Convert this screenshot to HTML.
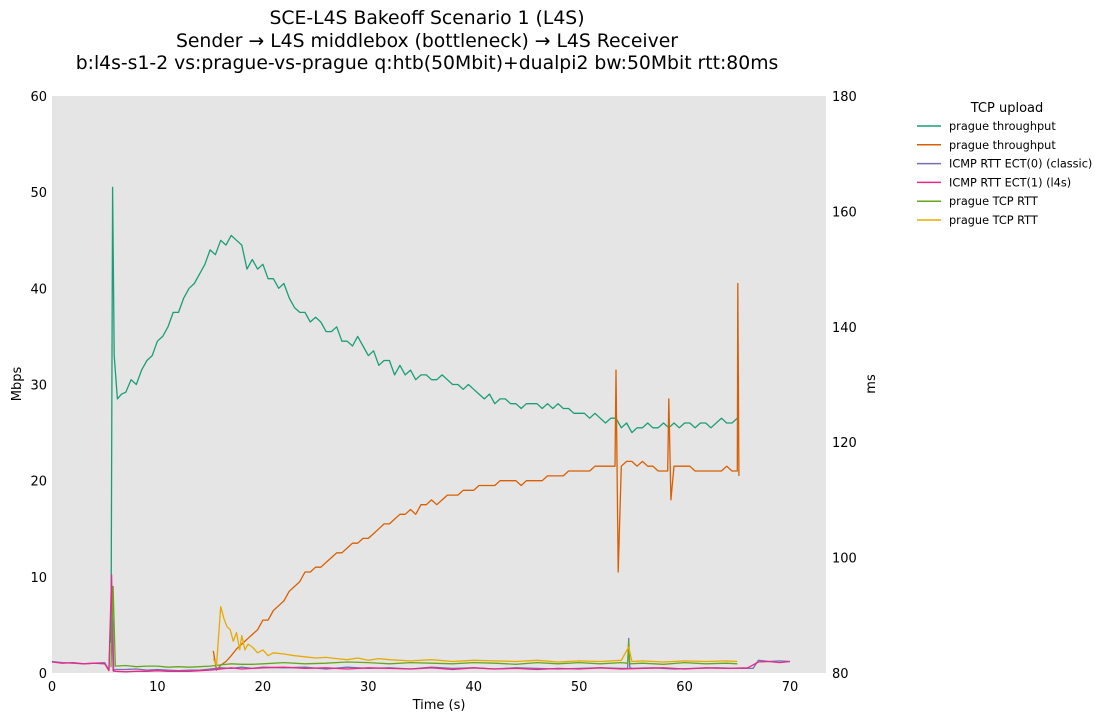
<!DOCTYPE html>
<html><head><meta charset="utf-8">
<style>
body{margin:0;background:#fff;font-family:"Liberation Sans","DejaVu Sans",sans-serif;}
svg text{font-family:"DejaVu Sans","Liberation Sans",sans-serif;}
</style></head>
<body>
<svg id="chart" width="1111" height="721" viewBox="0 0 1111 721">
<g font-size="18.8" text-anchor="middle" fill="#000">
<text x="427" y="24">SCE-L4S Bakeoff Scenario 1 (L4S)</text>
<text x="427" y="47">Sender → L4S middlebox (bottleneck) → L4S Receiver</text>
<text x="427" y="69">b:l4s-s1-2 vs:prague-vs-prague q:htb(50Mbit)+dualpi2 bw:50Mbit rtt:80ms</text>
</g>
<rect x="52" y="96" width="774" height="577" fill="#e5e5e5"/>
<g id="axes"></g>
<g id="series" clip-path="url(#clip)"></g>
<defs><clipPath id="clip"><rect x="52" y="90" width="774" height="584"/></clipPath></defs>
<text x="439" y="709" font-size="13" text-anchor="middle">Time (s)</text>
<text transform="translate(21,384) rotate(-90)" font-size="13" text-anchor="middle">Mbps</text>
<text transform="translate(875,384) rotate(-90)" font-size="13" text-anchor="middle">ms</text>
<g id="legend"><text x="1007" y="112" font-size="13" text-anchor="middle">TCP upload</text></g>
</svg>
<script>
const xTicks=[0,10,20,30,40,50,60,70];
const yLeftTicks=[0,10,20,30,40,50,60];
const yRightTicks=[80,100,120,140,160,180];
const legendLabels=["prague throughput","prague throughput","ICMP RTT ECT(0) (classic)","ICMP RTT ECT(1) (l4s)","prague TCP RTT","prague TCP RTT"];
const colors=["#1b9e77","#d95f02","#7570b3","#e7298a","#66a61e","#e6ab02"];
// series: [time, value]
const thrA_t=[5.5,5.6,5.75,5.9,6.2,6.6,7,7.5,8,8.5,9,9.5,10,10.5,11,11.5,12,12.5,13,13.5,14,14.5,15,15.5,16,16.5,17,17.5,18,18.5,19,19.5,20,20.5,21,21.5,22,22.5,23,23.5,24,24.5,25,25.5,26,26.5,27,27.5,28,28.5,29,29.5,30,30.5,31,31.5,32,32.5,33,33.5,34,34.5,35,35.5,36,36.5,37,37.5,38,38.5,39,39.5,40,40.5,41,41.5,42,42.5,43,43.5,44,44.5,45,45.5,46,46.5,47,47.5,48,48.5,49,49.5,50,50.5,51,51.5,52,52.5,53,53.5,54,54.5,55,55.5,56,56.5,57,57.5,58,58.5,59,59.5,60,60.5,61,61.5,62,62.5,63,63.5,64,64.5,65];
const thrA_v=[4,3.2,50.5,33,28.5,29,29.2,30.5,30,31.5,32.5,33,34.5,35,36,37.5,37.5,39,40,40.5,41.5,42.5,44,43.5,45,44.5,45.5,45,44.5,42,43,42,42.5,41,41,40,40.5,39,38,37.5,37.5,36.5,37,36.5,35.5,35.5,36,34.5,34.5,34,35,34,33,33.5,32,32.5,32.5,31,32,31,31.5,30.5,31,31,30.5,30.5,31,30.5,30,30,29.5,30,29.5,29,28.5,29,28,28.5,28.5,28,28,27.5,28,28,28,27.5,28,27.5,28,27.5,27.5,27,27,27,26.5,27,26.5,26,26.5,26.5,25.5,26,25,25.5,25.5,26,25.5,25.5,26,25.5,26,25.5,26,26,25.5,26,26,25.5,26,26.5,26,26,26.5,26.5,26];
const thrB_t=[15.3,15.6,16,16.5,17,17.5,18,18.5,19,19.5,20,20.5,21,21.5,22,22.5,23,23.5,24,24.5,25,25.5,26,26.5,27,27.5,28,28.5,29,29.5,30,30.5,31,31.5,32,32.5,33,33.5,34,34.5,35,35.5,36,36.5,37,37.5,38,38.5,39,39.5,40,40.5,41,41.5,42,42.5,43,43.5,44,44.5,45,45.5,46,46.5,47,47.5,48,48.5,49,49.5,50,50.5,51,51.5,52,52.5,53,53.4,53.5,53.7,54,54.5,55,55.5,56,56.5,57,57.5,58,58.4,58.5,58.7,59,59.5,60,60.5,61,61.5,62,62.5,63,63.5,64,64.5,65,65.05,65.15];
const thrB_v=[2.3,0.3,0.8,1.2,1.8,2.5,3,3.5,4,4.5,5.5,5.5,6.5,7,7.5,8.5,9,9.5,10.5,10.5,11,11,11.5,12,12.5,12.5,13,13.5,13.5,14,14,14.5,15,15.5,15.5,16,16.5,16.5,17,16.5,17.5,17.5,18,17.5,18,18.5,18.5,18.5,19,19,19,19.5,19.5,19.5,19.5,20,20,20,20,19.5,20,20,20,20,20.5,20.5,20.5,20.5,21,21,21,21,21,21.5,21.5,21.5,21.5,21.5,31.5,10.5,21.5,22,22,21.5,22,21.5,21.5,21,21,21,28.5,18,21.5,21.5,21.5,21.5,21,21,21,21,21,21,21.5,21,21,40.5,20.5];
const icmp0_t=[0,1,2,3,4,5,5.4,5.7,5.85,6,7,8,9,10,11,12,13,14,15,16,17,18,19,20,22,24,26,28,30,32,34,36,38,40,42,44,46,48,50,52,54,54.6,54.7,54.8,55,57,59,61,63,65,66.5,67,68,69,70];
const icmp0_v=[82,81.8,81.7,81.6,81.7,81.8,80.5,95,80.3,80.6,80.6,80.7,80.5,80.6,80.5,80.4,80.5,80.5,80.7,80.9,80.8,81,80.8,81,80.9,81,80.7,81,80.8,80.9,80.7,81,80.8,80.9,80.7,80.9,80.8,80.7,80.8,80.9,80.8,80.8,86,81,80.8,80.9,80.7,80.8,80.9,80.8,80.8,82.2,82,82.1,82];
const icmp1_t=[0,1,2,3,4,5,5.4,5.65,5.8,6,7,8,9,10,11,12,13,14,15,16,17,18,19,20,22,24,26,28,30,32,34,36,38,40,42,44,46,48,50,52,54,56,58,60,62,64,66,67,68,69,70];
const icmp1_v=[81.9,81.7,81.8,81.6,81.7,81.6,80.4,97,80.4,80.3,80.2,80.3,80.3,80.4,80.3,80.3,80.3,80.4,80.5,80.7,80.9,80.7,80.8,80.9,81,80.8,80.9,80.7,80.9,80.8,80.7,80.9,80.6,80.9,80.7,80.8,80.6,80.8,80.7,80.9,80.7,80.8,80.9,80.7,80.9,80.8,80.9,81.9,82,81.8,82];
const rttA_t=[5.6,5.8,6,7,8,9,10,11,12,13,14,15,16,17,18,19,20,22,24,26,28,30,32,34,36,38,40,42,44,46,48,50,52,54,54.6,54.7,54.8,56,58,60,62,64,65];
const rttA_v=[81,95,81.2,81.3,81.1,81.2,81.2,81,81.1,81,81.1,81.2,81.4,81.6,81.5,81.5,81.6,81.8,81.6,81.7,81.9,81.8,81.6,81.8,81.7,81.6,81.8,81.7,81.5,81.8,81.6,81.8,81.6,81.8,81.7,85.5,81.6,81.7,81.5,81.8,81.6,81.7,81.6];
const rttB_t=[15.3,15.6,16,16.3,16.6,16.9,17.2,17.5,17.8,18,18.3,18.6,19,19.5,20,20.5,21,22,23,24,25,26,27,28,29,30,31,32,34,36,38,40,42,44,46,48,50,52,54,54.7,55,56,58,60,62,64,65];
const rttB_v=[82.5,81.3,91.5,89.5,88,87.5,85.5,87,84,86.5,84,85,84.5,83.5,84,83,83.5,83.3,83,82.8,82.6,82.7,82.5,82.3,82.6,82.2,82.5,82.3,82.1,82.3,82,82.2,82.1,82,82.2,81.9,82.1,82,82.2,84.5,82,82.1,81.9,82.1,82,82.1,82];
const seriesData=[[thrA_t,thrA_v,"L"],[thrB_t,thrB_v,"L"],[icmp0_t,icmp0_v,"R"],[icmp1_t,icmp1_v,"R"],[rttA_t,rttA_v,"R"],[rttB_t,rttB_v,"R"]];
const seriesNames=["green-throughput-line","orange-throughput-line","icmp-ect0-line","icmp-ect1-line","green-tcp-rtt-line","yellow-tcp-rtt-line"];

const X=t=>52+t*(738/70);
const YL=v=>673-v*(577/60);
const YR=v=>673-(v-80)*(577/100);
const NS="http://www.w3.org/2000/svg";
function mk(tag,attrs,parent){const e=document.createElementNS(NS,tag);for(const k in attrs)e.setAttribute(k,attrs[k]);parent.appendChild(e);return e;}
const axes=document.getElementById('axes');
xTicks.forEach(t=>{const e=mk('text',{x:X(t),y:691,'font-size':13,'text-anchor':'middle'},axes);e.textContent=t;

});
yLeftTicks.forEach(v=>{const e=mk('text',{x:47,y:YL(v)+5,'font-size':13,'text-anchor':'end'},axes);e.textContent=v;

});
yRightTicks.forEach(v=>{const e=mk('text',{x:832,y:YR(v)+5,'font-size':13,'text-anchor':'start'},axes);e.textContent=v;

});
const sg=document.getElementById('series');
seriesData.forEach((s,i)=>{const [ts,vs,ax]=s;const f=ax==="L"?YL:YR;
const d=ts.map((t,j)=>(j?'L':'M')+X(t).toFixed(1)+' '+f(vs[j]).toFixed(1)).join(' ');
const p=mk('path',{d:d,fill:'none',stroke:colors[i],'stroke-width':1.3,'stroke-linejoin':'round'},sg);

});
const lg=document.getElementById('legend');
legendLabels.forEach((l,i)=>{const y=126+i*18.8;
const g=mk('g',{},lg);


mk('line',{x1:917,x2:941,y1:y,y2:y,stroke:colors[i],'stroke-width':1.5},g);
const t=mk('text',{x:949,y:y+4,'font-size':11.3},g);t.textContent=l;});
</script>
</body></html>
